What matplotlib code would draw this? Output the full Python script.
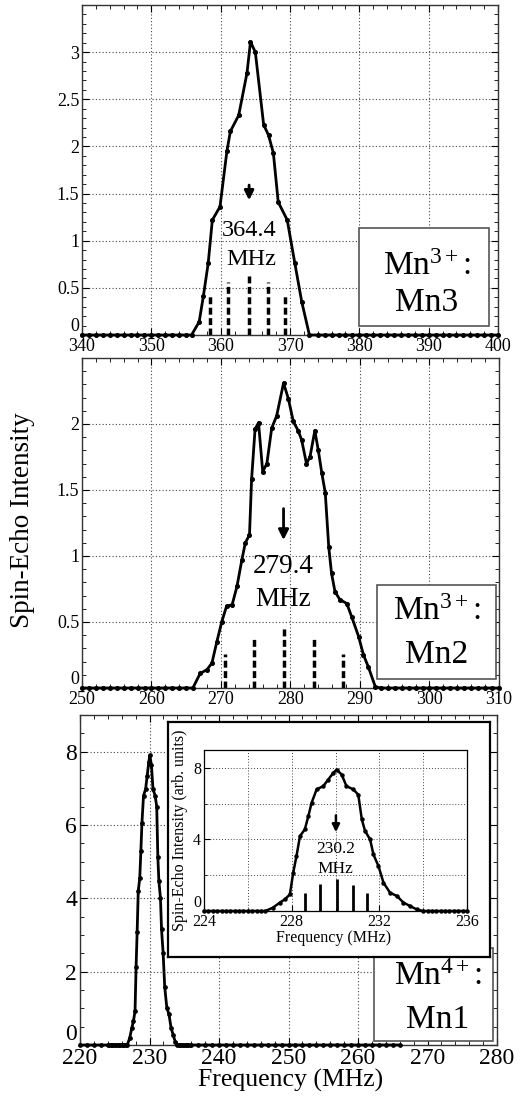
import matplotlib.pyplot as plt
from matplotlib.patches import Rectangle
from matplotlib.ticker import MultipleLocator, FuncFormatter

plt.rcParams['font.family'] = ['Liberation Serif', 'DejaVu Serif']
plt.rcParams['mathtext.fontset'] = 'custom'
plt.rcParams['mathtext.rm'] = 'Liberation Serif'
plt.rcParams['mathtext.it'] = 'Liberation Serif:italic'

# --- Mn3 (top panel) ---
mn3_freq = [340, 341, 342, 343, 344, 345, 346, 347, 348, 349, 350, 351, 352, 353, 354, 355,
            355.8, 356.9, 357.5, 358.2, 358.8, 359.9, 360.9, 361.4, 362.6, 363.8, 364.3,
            365.0, 366.2, 366.9, 367.6, 368.3, 369.6, 370.7, 371.7, 372.8,
            374, 375, 376, 377, 378, 379, 380, 381, 382, 383, 384, 385, 386, 387, 388, 389,
            390, 391, 392, 393, 394, 395, 396, 397, 398, 399, 400]
mn3_int = [0] * 16 + [0, 0.14, 0.41, 0.76, 1.22, 1.36, 1.95, 2.16, 2.33, 2.78, 3.11,
                      3.0, 2.23, 2.12, 1.93, 1.41, 1.22, 0.76, 0.35, 0] + [0] * 27
mn3_sticks = [358.5, 361.1, 364.1, 366.8, 369.3]
mn3_stick_h = [0.42, 0.56, 0.65, 0.56, 0.44]

# --- Mn2 (middle panel) ---
mn2_freq = [250, 251, 252, 253, 254, 255, 256, 257, 258, 259, 260, 261, 262, 263, 264, 265,
            265.95, 267.0, 268.0, 268.7, 269.4, 270.1, 270.8, 271.6, 272.3, 273.0, 273.5,
            274.1, 274.4, 274.9, 275.4, 276.0, 276.6, 277.3, 278.0, 279.0, 279.7, 280.4,
            281.1, 281.6, 282.3, 282.8, 283.5, 284.0, 284.5, 285.0, 285.5, 285.9, 286.4,
            287.1, 288.1, 288.8, 289.8, 290.5, 291.2, 292.2,
            293, 294, 295, 296, 297, 298, 299, 300, 301, 302, 303, 304, 305, 306, 307, 308,
            309, 310]
mn2_int = [0] * 16 + [0, 0.11, 0.14, 0.19, 0.35, 0.50, 0.62, 0.63, 0.77, 0.97, 1.10,
                      1.16, 1.58, 1.96, 2.01, 1.64, 1.70, 1.97, 2.06, 2.31, 2.19, 2.02,
                      1.95, 1.88, 1.70, 1.75, 1.95, 1.80, 1.63, 1.48, 1.07, 0.87, 0.73,
                      0.67, 0.64, 0.54, 0.39, 0.25, 0.16, 0.01] + [0] * 18
mn2_sticks = [270.6, 274.8, 279.0, 283.4, 287.6]
mn2_stick_h = [0.26, 0.39, 0.46, 0.39, 0.26]

# --- Mn1 (bottom panel and inset) ---
mn1_freq = [224.0, 224.2, 224.4, 224.6, 224.8, 225.0, 225.2, 225.4, 225.6, 225.8, 226.0,
            226.2, 226.4, 226.6, 226.8,
            227.15, 227.46, 227.69, 227.92, 228.07, 228.22, 228.38, 228.6, 228.76, 228.91,
            229.14, 229.44, 229.67, 229.9, 230.05, 230.28, 230.5, 230.81, 231.04, 231.2,
            231.35, 231.58, 231.73, 231.96, 232.19, 232.49, 232.8, 233.1, 233.4, 233.7,
            234.0, 234.2, 234.4, 234.6, 234.8, 235.0, 235.2, 235.4, 235.6, 235.8, 236.0]
mn1_int = [0] * 15 + [0.19, 0.47, 0.65, 0.93, 2.14, 3.07, 4.19, 4.56, 5.3, 6.05,
                      6.8, 6.98, 7.35, 7.72, 7.9, 7.63, 6.98, 6.8, 6.5, 5.12,
                      4.47, 4.0, 3.16, 2.51, 1.58, 1.02, 0.84, 0.47, 0.28, 0.09] + [0] * 11
mn1_low_freq = [220, 221, 222, 223]
mn1_high_freq = [237, 238, 239, 240, 241, 242, 243, 244, 245, 246, 247, 248, 249, 250, 251,
                 252, 253, 254, 255, 256, 257, 258, 259, 260, 261, 262, 263, 264, 265, 266]
mn1_sticks = [228.63, 229.28, 230.05, 230.81, 231.45]
mn1_stick_h = [0.99, 1.49, 1.77, 1.45, 0.99]

W, H = 523, 1096


def axes_rect(x0, y0, x1, y1):
    # pixel box (top-left origin) -> figure fraction
    return [x0 / W, 1 - y1 / H, (x1 - x0) / W, (y1 - y0) / H]


def fmt(v, pos):
    return f"{v:g}"


def style(ax, xlim, ylim, xmajor, xminor, yticks, yminor, fs):
    ax.set_xlim(*xlim)
    ax.set_ylim(*ylim)
    ax.xaxis.set_major_locator(MultipleLocator(xmajor))
    ax.xaxis.set_minor_locator(MultipleLocator(xminor))
    ax.set_yticks(yticks)
    ax.yaxis.set_minor_locator(MultipleLocator(yminor))
    ax.yaxis.set_major_formatter(FuncFormatter(fmt))
    ax.tick_params(which='both', direction='in', top=True, right=True,
                   labelsize=fs, pad=2)
    ax.tick_params(which='major', length=5, width=0.8)
    ax.tick_params(which='minor', length=3, width=0.6)
    ax.grid(True, which='major', ls=(0, (1, 2)), color='#444', lw=0.8)
    for s in ax.spines.values():
        s.set_linewidth(1.0)
        s.set_color('#333')
    # the "0" label sits just above the axis, clear of the x labels
    ax.get_yticklabels()[0].set_va('bottom')


def label_box(ax, x0, x1, y0, y1, top, bottom, tx, ty1, ty2):
    ax.add_patch(Rectangle((x0, y0), x1 - x0, y1 - y0, transform=ax.transAxes,
                           facecolor='white', edgecolor='#555', lw=1.2, zorder=6))
    ax.text(tx, ty1, top, transform=ax.transAxes, ha='center', va='center',
            fontsize=24, zorder=7)
    ax.text(tx, ty2, bottom, transform=ax.transAxes, ha='center', va='center',
            fontsize=24, zorder=7)


fig = plt.figure(figsize=(W / 100, H / 100), dpi=100)

line_kw = dict(color='black', lw=2.0, marker='o', ms=2.6, clip_on=False, zorder=4)

# top panel
ax1 = fig.add_axes(axes_rect(82, 5, 498, 335))
style(ax1, (340, 400), (0, 3.5), 10, 2, [0, 0.5, 1, 1.5, 2, 2.5, 3], 0.1, 13)
ax1.plot(mn3_freq, mn3_int, **line_kw)
ax1.vlines(mn3_sticks, 0, mn3_stick_h, colors='black', lw=2.5, linestyles=(0, (2, 1)))
ax1.annotate('', xy=(364.1, 1.40), xytext=(364.1, 1.62),
             arrowprops=dict(arrowstyle='-|>', color='black', lw=2, mutation_scale=14))
ax1.text(364.1, 1.11, '364.4', ha='center', va='center', fontsize=17.5)
ax1.text(364.4, 0.80, 'MHz', ha='center', va='center', fontsize=17.5)
label_box(ax1, 0.666, 0.978, 0.027, 0.324, 'Mn$^{3+}$:', 'Mn3', 0.829, 0.206, 0.097)

# middle panel
ax2 = fig.add_axes(axes_rect(82, 358, 499, 688))
style(ax2, (250, 310), (0, 2.5), 10, 2, [0, 0.5, 1, 1.5, 2], 0.1, 13)
ax2.plot(mn2_freq, mn2_int, **line_kw)
ax2.vlines(mn2_sticks, 0, mn2_stick_h, colors='black', lw=2.5, linestyles=(0, (2, 1)))
ax2.annotate('', xy=(279.0, 1.10), xytext=(279.0, 1.38),
             arrowprops=dict(arrowstyle='-|>', color='black', lw=2, mutation_scale=15))
ax2.text(279.0, 0.92, '279.4', ha='center', va='center', fontsize=19.5)
ax2.text(279.0, 0.67, 'MHz', ha='center', va='center', fontsize=19.5)
label_box(ax2, 0.707, 0.993, 0.027, 0.312, 'Mn$^{3+}$:', 'Mn2', 0.851, 0.230, 0.100)

# bottom panel
ax3 = fig.add_axes(axes_rect(80, 715, 497, 1045))
style(ax3, (220, 280), (0, 9), 10, 2, [0, 2, 4, 6, 8], 0.5, 17)
ax3.plot(mn1_low_freq + mn1_freq + mn1_high_freq,
         [0] * len(mn1_low_freq) + mn1_int + [0] * len(mn1_high_freq),
         color='black', lw=2.0, marker='o', ms=2.4, clip_on=False, zorder=4)
label_box(ax3, 0.705, 0.990, 0.012, 0.294, 'Mn$^{4+}$:', 'Mn1', 0.858, 0.206, 0.076)

# inset frame
frame = fig.add_axes(axes_rect(168, 722, 490, 957))
frame.set_xticks([])
frame.set_yticks([])
for s in frame.spines.values():
    s.set_linewidth(1.6)
frame.set_facecolor('white')

ax_in = fig.add_axes(axes_rect(204, 750, 467, 911))
ax_in.set_xlim(224, 236)
ax_in.set_ylim(0, 9)
ax_in.set_xticks([224, 228, 232, 236])
ax_in.xaxis.set_minor_locator(MultipleLocator(2))
ax_in.set_yticks([0, 4, 8])
ax_in.yaxis.set_minor_locator(MultipleLocator(2))
ax_in.tick_params(which='both', direction='in', labelsize=11.5, pad=2)
ax_in.tick_params(which='major', length=4)
ax_in.tick_params(which='minor', length=2.5)
ax_in.grid(True, which='both', ls=(0, (1, 2)), color='#444', lw=0.7)
for s in ax_in.spines.values():
    s.set_linewidth(0.9)
ax_in.get_yticklabels()[0].set_va('bottom')
ax_in.plot(mn1_freq, mn1_int, color='black', lw=1.8, marker='o', ms=2.2,
           clip_on=False, zorder=4)
ax_in.vlines(mn1_sticks, 0, mn1_stick_h, colors='black', lw=2.0)
ax_in.annotate('', xy=(230.02, 4.25), xytext=(230.02, 5.5),
               arrowprops=dict(arrowstyle='-|>', color='black', lw=1.8, mutation_scale=11))
ax_in.text(230.0, 3.44, '230.2', ha='center', va='center', fontsize=12.5)
ax_in.text(230.0, 2.33, 'MHz', ha='center', va='center', fontsize=12.5)
ax_in.text(-0.091, 0.5, 'Spin-Echo Intensity (arb. units)', transform=ax_in.transAxes,
           rotation=90, ha='center', va='center', fontsize=11.5)
ax_in.text(0.494, -0.168, 'Frequency (MHz)', transform=ax_in.transAxes,
           ha='center', va='center', fontsize=11.5)

fig.text(23 / W, 1 - 520 / H, 'Spin-Echo Intensity', rotation=90,
         ha='center', va='center', fontsize=19.5)
fig.text(291 / W, 1 - 1087 / H, 'Frequency (MHz)', ha='center', va='baseline',
         fontsize=18.5)

fig.savefig('out.png', dpi=100)
